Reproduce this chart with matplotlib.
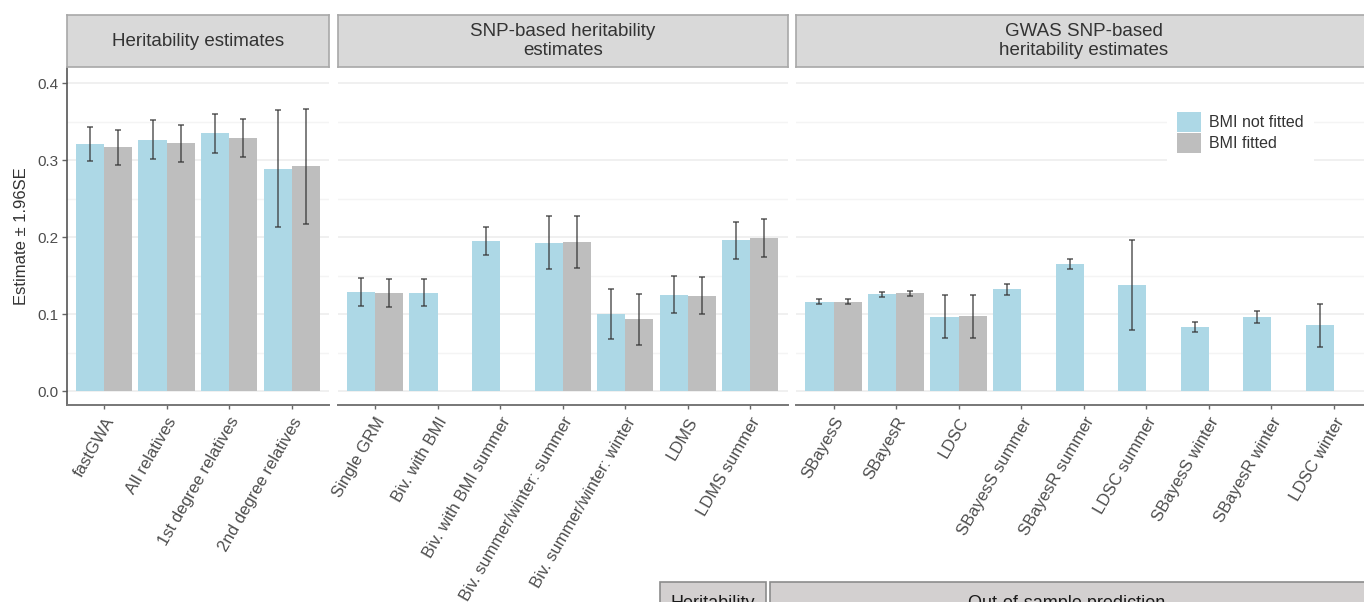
import numpy as np
import matplotlib
matplotlib.use('Agg')
import matplotlib.pyplot as plt
from matplotlib.patches import Rectangle, Patch
from matplotlib.ticker import MultipleLocator

plt.rcParams['font.family'] = ['Liberation Sans', 'DejaVu Sans']

BLUE = '#add8e6'
GREY = '#bebebe'
nan = np.nan

# heritability estimates
herit_cats = ['fastGWA', 'All relatives', '1st degree relatives', '2nd degree relatives']
herit_nofit = [0.321, 0.327, 0.335, 0.289]
herit_nofit_ci = [0.022, 0.025, 0.025, 0.076]
herit_fit = [0.317, 0.322, 0.329, 0.292]
herit_fit_ci = [0.023, 0.024, 0.025, 0.075]

# SNP-based heritability estimates
snp_cats = ['Single GRM', 'Biv. with BMI', 'Biv. with BMI summer',
            'Biv. summer/winter: summer', 'Biv. summer/winter: winter',
            'LDMS', 'LDMS summer']
snp_nofit = [0.129, 0.128, 0.195, 0.193, 0.100, 0.125, 0.196]
snp_nofit_ci = [0.018, 0.018, 0.018, 0.034, 0.033, 0.024, 0.024]
snp_fit = [0.127, nan, nan, 0.194, 0.093, 0.124, 0.199]
snp_fit_ci = [0.018, nan, nan, 0.034, 0.033, 0.024, 0.025]

# GWAS SNP-based heritability estimates
gwas_cats = ['SBayesS', 'SBayesR', 'LDSC', 'SBayesS summer', 'SBayesR summer',
             'LDSC summer', 'SBayesS winter', 'SBayesR winter', 'LDSC winter']
gwas_nofit = [0.116, 0.1255, 0.0965, 0.132, 0.1645, 0.138, 0.0835, 0.0965, 0.0857]
gwas_nofit_ci = [0.003, 0.003, 0.028, 0.007, 0.0065, 0.0585, 0.0065, 0.0078, 0.028]
gwas_fit = [0.116, 0.127, 0.0974, nan, nan, nan, nan, nan, nan]
gwas_fit_ci = [0.003, 0.003, 0.028, nan, nan, nan, nan, nan, nan]

panels = [
    ('Heritability estimates', herit_cats, herit_nofit, herit_nofit_ci, herit_fit, herit_fit_ci),
    ('SNP-based heritability\nestimates', snp_cats, snp_nofit, snp_nofit_ci, snp_fit, snp_fit_ci),
    ('GWAS SNP-based\nheritability estimates', gwas_cats, gwas_nofit, gwas_nofit_ci, gwas_fit, gwas_fit_ci),
]

W, H = 1364, 602
fig = plt.figure(figsize=(W / 100, H / 100), dpi=100)


def fx(px):
    return px / W


def fy(py):
    return 1 - py / H


unit = 62.55  # pixels per category
lefts = [66.5, 337.5, 796]
top, bottom = 68, 405
strip_top, strip_bot = 15, 67

axes = []
for (title, cats, nofit, nofit_ci, fit, fit_ci), left in zip(panels, lefts):
    n = len(cats)
    width = unit * (n + 0.2)
    ax = fig.add_axes([fx(left), fy(bottom), width / W, (bottom - top) / H])
    axes.append(ax)
    x = np.arange(n)
    nofit = np.array(nofit)
    fit = np.array(fit)
    ax.bar(x - 0.225, nofit, 0.45, color=BLUE, zorder=2)
    ok = ~np.isnan(fit)
    ax.bar(x[ok] + 0.225, fit[ok], 0.45, color=GREY, zorder=2)
    ax.errorbar(x - 0.225, nofit, yerr=nofit_ci, fmt='none', ecolor='#333333',
                elinewidth=1.1, capsize=2.5, capthick=1.1, alpha=0.8, zorder=3)
    ax.errorbar(x[ok] + 0.225, fit[ok], yerr=np.array(fit_ci)[ok], fmt='none',
                ecolor='#333333', elinewidth=1.1, capsize=2.5, capthick=1.1,
                alpha=0.8, zorder=3)

    ax.set_xlim(-0.6, n - 0.4)
    ax.set_ylim(-0.0182, 0.42)
    ax.set_xticks(x)
    ax.set_xticklabels(cats, rotation=60, ha='right', va='top',
                       rotation_mode='anchor', fontsize=12, color='#4d4d4d')
    ax.yaxis.set_major_locator(MultipleLocator(0.1))
    ax.yaxis.set_minor_locator(MultipleLocator(0.05))
    ax.grid(axis='y', which='major', color='#eeeeee', lw=1.2)
    ax.grid(axis='y', which='minor', color='#f4f4f4', lw=1.0)
    ax.set_axisbelow(True)
    ax.tick_params(axis='x', length=3, width=1, color='#666666', pad=4)
    ax.tick_params(axis='y', which='minor', length=0)
    for s in ['top', 'right']:
        ax.spines[s].set_visible(False)
    ax.spines['bottom'].set_color('#777777')
    ax.spines['bottom'].set_linewidth(1.4)
    if left == lefts[0]:
        ax.spines['left'].set_color('#555555')
        ax.spines['left'].set_linewidth(1.2)
        ax.tick_params(axis='y', length=3.5, width=1, color='#666666', pad=2.5,
                       labelsize=11, labelcolor='#4d4d4d')
        ax.set_yticks([0.0, 0.1, 0.2, 0.3, 0.4])
        ax.set_yticklabels(['0.0', '0.1', '0.2', '0.3', '0.4'])
    else:
        ax.spines['left'].set_visible(False)
        ax.tick_params(axis='y', which='both', length=0, labelleft=False)

    # facet strip
    sax = fig.add_axes([fx(left), fy(strip_bot), width / W, (strip_bot - strip_top) / H])
    sax.set_facecolor('#d9d9d9')
    sax.set_xticks([])
    sax.set_yticks([])
    for s in sax.spines.values():
        s.set_color('#a8a8a8')
        s.set_linewidth(1.2)
    sax.text(0.5, 0.5, title, ha='center', va='center', fontsize=13.5,
             color='#333333', linespacing=1.15, transform=sax.transAxes)

fig.text(fx(22), fy((top + bottom) / 2), 'Estimate \u00b1 1.96SE', rotation=90,
         ha='center', va='center', fontsize=12, color='#333333')

handles = [Patch(facecolor=BLUE, label='BMI not fitted'),
           Patch(facecolor=GREY, label='BMI fitted')]
axes[2].legend(handles=handles, loc='upper left',
               bbox_to_anchor=(fx(1167), fy(102)), bbox_transform=fig.transFigure,
               frameon=True, facecolor='white', edgecolor='none', framealpha=1,
               fancybox=False, fontsize=11.5, handlelength=1.55, handleheight=1.55,
               handletextpad=0.5, labelspacing=0.1, borderpad=0.6, borderaxespad=0,
               labelcolor='#333333')

# strips of the next figure, cut off at the bottom edge as in the original
for x0, x1, label in [(660, 766, 'Heritability'), (770, 1390, 'Out-of-sample prediction')]:
    fig.add_artist(Rectangle((fx(x0), fy(625)), (x1 - x0) / W, (625 - 582) / H,
                             transform=fig.transFigure, facecolor='#d3d0d0',
                             edgecolor='#8c8c8c', lw=1.2))
    cx = (x0 + x1) / 2 if x1 < 1364 else 1067
    fig.text(fx(cx), fy(603), label, ha='center', va='center', fontsize=13,
             color='#1a1a1a')

fig.savefig('out.png', dpi=100)
